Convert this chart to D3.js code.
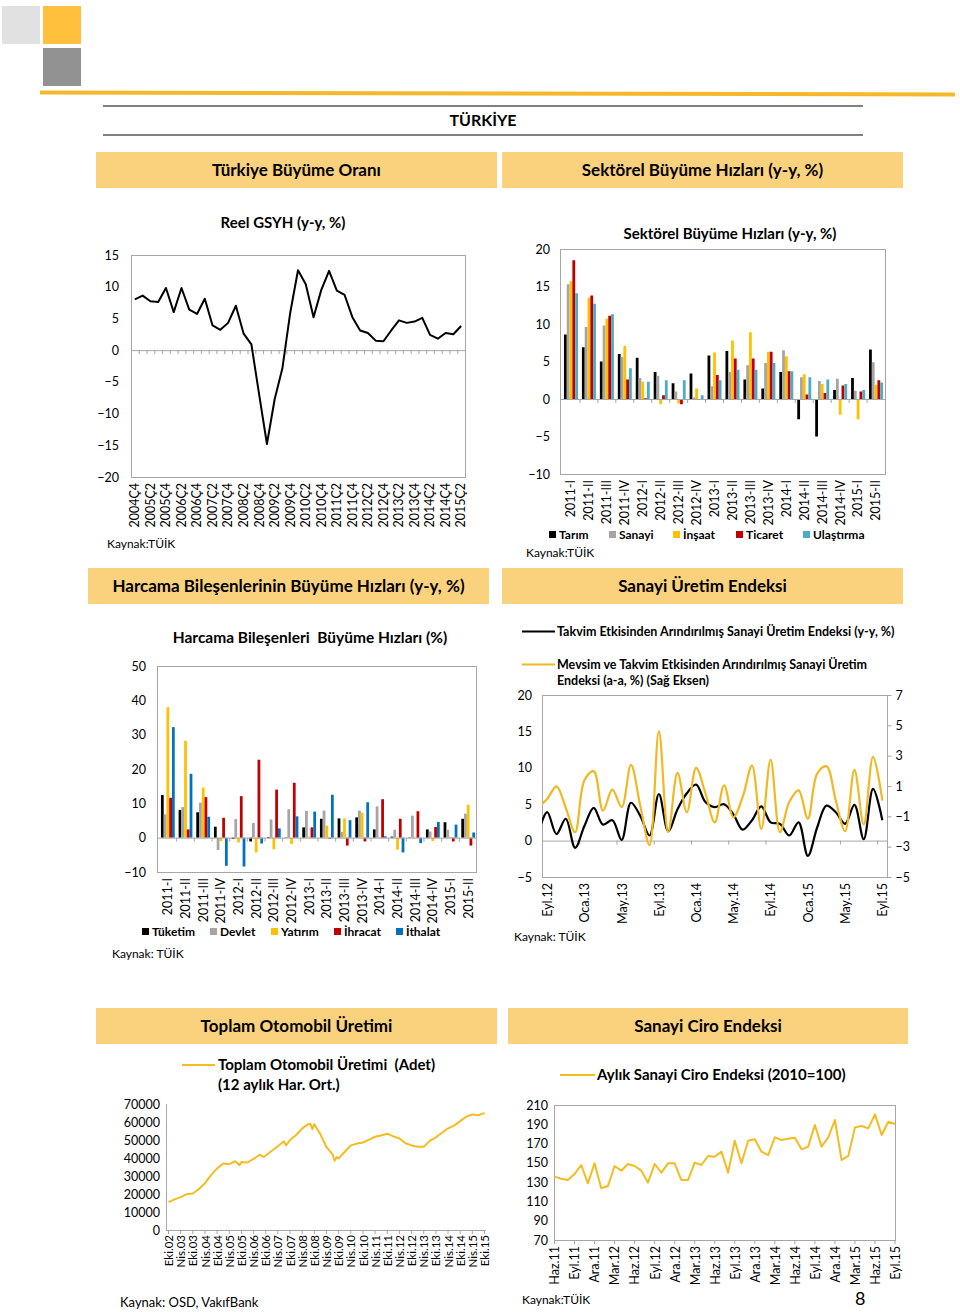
<!DOCTYPE html>
<html><head><meta charset="utf-8">
<script src="https://cdn.jsdelivr.net/npm/d3@7"></script>
<style>
body{margin:0;background:#fff}
svg{display:block}
text{white-space:pre}
</style>
</head><body>
<svg id="chart"></svg>
<script>
// ---------------- DATA ----------------
const gdpQuarters = ["2004Ç4","2005Ç1","2005Ç2","2005Ç3","2005Ç4","2006Ç1","2006Ç2","2006Ç3","2006Ç4","2007Ç1","2007Ç2","2007Ç3","2007Ç4","2008Ç1","2008Ç2","2008Ç3","2008Ç4","2009Ç1","2009Ç2","2009Ç3","2009Ç4","2010Ç1","2010Ç2","2010Ç3","2010Ç4","2011Ç1","2011Ç2","2011Ç3","2011Ç4","2012Ç1","2012Ç2","2012Ç3","2012Ç4","2013Ç1","2013Ç2","2013Ç3","2013Ç4","2014Ç1","2014Ç2","2014Ç3","2014Ç4","2015Ç1","2015Ç2"];
const gdpValues = [8.0,8.6,7.7,7.6,9.8,6.0,9.8,6.4,5.7,8.1,3.9,3.2,4.3,7.0,2.6,0.9,-7.0,-14.8,-7.7,-2.8,5.9,12.6,10.4,5.2,9.5,12.5,9.4,8.7,5.2,3.1,2.7,1.5,1.4,3.1,4.7,4.3,4.5,5.1,2.4,1.8,2.7,2.5,3.8];
const gdpYTicks = [-20,-15,-10,-5,0,5,10,15];

const quarters1115 = ["2011-I","2011-II","2011-III","2011-IV","2012-I","2012-II","2012-III","2012-IV","2013-I","2013-II","2013-III","2013-IV","2014-I","2014-II","2014-III","2014-IV","2015-I","2015-II"];
const sectorNames = ["Tarım","Sanayi","İnşaat","Ticaret","Ulaştırma"];
const sectorColors = ["#000000","#A5A5A5","#FFC000","#C00000","#4BACC6"];
const tarim     = [8.6,6.9,5.0,6.0,5.5,3.6,2.1,3.4,5.8,6.4,2.6,1.4,3.6,-2.7,-5.0,1.2,2.8,6.6];
const sanayi    = [15.3,9.6,9.8,5.6,2.8,3.1,1.0,0.2,1.7,3.6,4.5,4.8,6.5,2.9,2.4,2.7,1.1,4.9];
const insaat    = [15.7,13.5,10.7,7.1,2.3,-0.7,-0.6,1.4,6.2,7.8,8.9,6.3,5.7,3.3,2.0,-2.1,-2.7,1.9];
const ticaret   = [18.5,13.8,11.1,2.6,0.1,0.5,-0.7,-0.1,3.2,5.4,5.4,6.3,3.7,0.6,0.8,1.8,1.0,2.5];
const ulastirma = [14.1,12.7,11.3,4.1,2.3,2.5,2.5,0.5,2.5,3.9,3.9,4.8,3.7,2.9,2.6,2.0,1.2,2.2];
const sectorYTicks = [-10,-5,0,5,10,15,20];

const spendNames = ["Tüketim","Devlet","Yatırım","İhracat","İthalat"];
const spendColors = ["#000000","#A5A5A5","#FFC000","#C00000","#0070C0"];
const tuketim = [12.4,8.1,7.4,3.2,-0.4,-1.1,0.2,0.1,3.0,5.5,5.6,5.9,2.4,0.3,0.1,2.4,4.5,5.5];
const devlet  = [6.8,8.9,10.2,-3.6,5.4,4.3,5.3,8.3,7.8,7.9,1.7,7.9,9.1,2.3,6.4,1.8,2.3,7.0];
const yatirim = [38.0,28.2,14.6,-1.0,-1.4,-4.3,-3.4,-1.8,0.3,3.5,5.6,7.3,0.2,-3.5,-0.2,-1.0,0.2,9.6];
const ihracat = [11.6,2.4,11.8,5.8,12.1,22.7,14.0,16.0,3.0,-0.3,-2.3,-1.1,11.2,5.5,7.7,3.1,-1.1,-2.3];
const ithalat = [32.2,18.6,6.1,-8.2,-8.4,-1.7,2.7,6.2,7.6,12.5,5.1,10.3,0.4,-4.3,-1.6,4.6,3.8,1.5];
const spendYTicks = [-10,0,10,20,30,40,50];

const trMonths = ["Oca","Şub","Mar","Nis","May","Haz","Tem","Ağu","Eyl","Eki","Kas","Ara"];

// Sanayi üretim: Ağu.12 .. Eyl.15 (first month lies just left of the plot)
const ipMonths = ["Ağu.12","Eyl.12","Eki.12","Kas.12","Ara.12","Oca.13","Şub.13","Mar.13","Nis.13","May.13","Haz.13","Tem.13","Ağu.13","Eyl.13","Eki.13","Kas.13","Ara.13","Oca.14","Şub.14","Mar.14","Nis.14","May.14","Haz.14","Tem.14","Ağu.14","Eyl.14","Eki.14","Kas.14","Ara.14","Oca.15","Şub.15","Mar.15","Nis.15","May.15","Haz.15","Tem.15","Ağu.15","Eyl.15"];
const ipYoY = [0.8,3.9,0.9,3.0,-1.0,2.0,4.5,2.2,2.8,0.1,5.2,3.4,0.7,6.4,1.3,4.3,6.5,7.7,5.3,4.6,5.0,3.6,1.5,2.8,4.7,2.5,2.3,0.7,2.5,-2.1,1.8,4.8,3.9,2.3,4.9,0.2,7.1,2.8];
const ipMoM = [-0.4,0.15,0.98,-0.44,-2.05,1.38,1.98,-0.63,0.76,-0.39,2.39,-0.3,-2.89,4.6,-2.05,1.86,-0.73,2.2,0.52,-1.4,1.05,-1.06,0.28,2.34,-1.83,2.73,-2.05,-0.06,0.71,-1.16,1.82,2.3,0.04,-1.98,2.06,-1.54,2.92,0.04];
const ipTickLabels = ["Eyl.12","Oca.13","May.13","Eyl.13","Oca.14","May.14","Eyl.14","Oca.15","May.15","Eyl.15"];
const ipLeftTicks = [-5,0,5,10,15,20];
const ipRightTicks = [-5,-3,-1,1,3,5,7];

// Otomobil üretimi (12 aylık hareketli ortalama)
const autoDates = ["2002-10","2003-01","2003-04","2003-07","2003-10","2004-01","2004-04","2004-07","2004-10","2005-01","2005-04","2005-07","2005-09","2005-10","2006-01","2006-04","2006-07","2006-09","2006-10","2007-01","2007-04","2007-07","2007-08","2007-10","2008-01","2008-04","2008-07","2008-08","2008-09","2008-10","2009-01","2009-04","2009-07","2009-08","2009-09","2009-10","2010-01","2010-04","2010-07","2010-10","2011-01","2011-04","2011-07","2011-10","2012-01","2012-04","2012-07","2012-10","2013-01","2013-04","2013-07","2013-10","2014-01","2014-04","2014-07","2014-10","2015-01","2015-04","2015-07","2015-10"];
const autoValues = [15500,17000,18300,19900,20300,22800,26000,30500,34200,37000,36600,38200,36000,37800,37500,39500,41800,40600,41400,44000,46500,49300,47000,50000,52800,56500,58800,59000,56000,58800,53000,46000,42000,38500,40500,39800,43500,47000,48000,48600,50200,51800,52500,53500,52000,50800,48200,47000,46300,46300,49500,51500,54000,56500,58000,60500,63000,64200,63800,65000];
const autoTickLabels = ["Eki.02","Nis.03","Eki.03","Nis.04","Eki.04","Nis.05","Eki.05","Nis.06","Eki.06","Nis.07","Eki.07","Nis.08","Eki.08","Nis.09","Eki.09","Nis.10","Eki.10","Nis.11","Eki.11","Nis.12","Eki.12","Nis.13","Eki.13","Nis.14","Eki.14","Nis.15","Eki.15"];
const autoYTicks = [0,10000,20000,30000,40000,50000,60000,70000];

// Sanayi ciro endeksi: Haz.11 .. Eyl.15
const ciroValues = [135.7,133.6,132.2,138.4,147.8,128.8,149.5,123.6,126.0,146.7,141.9,148.8,146.7,141.9,129.5,148.8,139.8,149.5,149.5,132.2,132.2,150.2,147.8,157.1,156.4,161.6,139.8,173.0,149.5,173.0,174.4,161.6,158.1,176.5,173.7,175.1,176.1,164.0,166.8,189.3,166.8,176.5,194.4,153.0,157.1,186.8,188.2,185.8,200.3,178.9,192.7,190.3];
const ciroTickLabels = ["Haz.11","Eyl.11","Ara.11","Mar.12","Haz.12","Eyl.12","Ara.12","Mar.13","Haz.13","Eyl.13","Ara.13","Mar.14","Haz.14","Eyl.14","Ara.14","Mar.15","Haz.15","Eyl.15"];
const ciroYTicks = [70,90,110,130,150,170,190,210];

// ---------------- DRAWING ----------------
const FONT = "Lato, 'Open Sans', sans-serif";
const AXIS = "#A6A6A6";
const YEL = "#F5BC22";
const svg = d3.select("#chart").attr("width",960).attr("height",1312).style("font-family",FONT);
svg.append("rect").attr("width",960).attr("height",1312).attr("fill","#fff");

function txt(g,x,y,s,o={}){
  return g.append("text").attr("x",x).attr("y",y)
    .attr("font-size",o.size||12).attr("font-weight",o.bold?"bold":"normal")
    .attr("text-anchor",o.anchor||"start").attr("fill",o.fill||"#000").text(s);
}
function frame(g,L,T,R,B){
  g.append("rect").attr("x",L+0.5).attr("y",T+0.5).attr("width",R-L).attr("height",B-T)
    .attr("fill","none").attr("stroke",AXIS);
}
function yLeft(g,y,L,vals,pad,size,fmt){
  const ax=d3.axisLeft(y).tickValues(vals).tickSize(0).tickPadding(pad);
  if(fmt) ax.tickFormat(fmt);
  const a=g.append("g").attr("transform",`translate(${L},0)`).call(ax);
  a.select(".domain").remove();
  a.attr("font-family",FONT).attr("font-size",size);
  a.selectAll("text").attr("fill","#000");
  return a;
}
function xRot(g,x,vals,fmt,yTop,pad,size){
  const ax=d3.axisBottom(x).tickValues(vals).tickSize(0);
  if(fmt) ax.tickFormat(fmt);
  const a=g.append("g").attr("transform",`translate(0,${yTop})`).call(ax);
  a.select(".domain").remove();
  a.attr("font-family",FONT).attr("font-size",size);
  a.selectAll("text").attr("fill","#000").attr("transform","rotate(-90)")
    .attr("text-anchor","end").attr("x",-pad).attr("y",0).attr("dy","0.35em");
  return a;
}
function sectionBox(x,y,w,h,label){
  svg.append("rect").attr("x",x).attr("y",y).attr("width",w).attr("height",h).attr("fill","#FAD27D");
  txt(svg,x+w/2,y+h/2+6,label,{size:17,bold:true,anchor:"middle"});
}

// Header
svg.append("rect").attr("x",2).attr("y",6).attr("width",38).attr("height",38).attr("fill","#E1E1E1");
svg.append("rect").attr("x",43).attr("y",6).attr("width",38).attr("height",38).attr("fill","#FFC13D");
svg.append("rect").attr("x",43).attr("y",48).attr("width",38).attr("height",38).attr("fill","#929292");
svg.append("line").attr("x1",40).attr("x2",955).attr("y1",92.5).attr("y2",94.5).attr("stroke","#F5B82A").attr("stroke-width",4);
svg.append("line").attr("x1",103).attr("x2",863).attr("y1",106).attr("y2",106).attr("stroke","#808080").attr("stroke-width",2);
svg.append("line").attr("x1",103).attr("x2",863).attr("y1",135).attr("y2",135).attr("stroke","#808080").attr("stroke-width",2);
txt(svg,483,126,"TÜRKİYE",{size:16,bold:true,anchor:"middle"});

sectionBox(96,152,401,36,"Türkiye Büyüme Oranı");
sectionBox(502,152,401,36,"Sektörel Büyüme Hızları (y-y, %)");
sectionBox(88,568,401,36,"Harcama Bileşenlerinin Büyüme Hızları (y-y, %)");
sectionBox(502,568,401,36,"Sanayi Üretim Endeksi");
sectionBox(96,1008,401,36,"Toplam Otomobil Üretimi");
sectionBox(508,1008,400,36,"Sanayi Ciro Endeksi");

// ---- Chart 1: Reel GSYH ----
(function(){
  const L=131,R=465,T=255,B=477;
  const g=svg.append("g");
  const x=d3.scaleBand().domain(gdpQuarters).range([L,R]);
  const y=d3.scaleLinear().domain([-20,15]).range([B,T]);
  frame(g,L,T,R,B);
  g.append("line").attr("x1",L).attr("x2",R).attr("y1",y(0)+0.5).attr("y2",y(0)+0.5).attr("stroke",AXIS);
  g.selectAll(null).data(gdpQuarters.slice(1)).join("line")
    .attr("x1",d=>x(d)+0.5).attr("x2",d=>x(d)+0.5).attr("y1",y(0)).attr("y2",y(0)+4).attr("stroke",AXIS);
  yLeft(g,y,L,gdpYTicks,12,12.5);
  xRot(g,x,gdpQuarters.filter((d,i)=>i%2===0),null,B,6,12.5);
  g.append("path").datum(gdpValues)
    .attr("d",d3.line().x((d,i)=>x(gdpQuarters[i])+x.bandwidth()/2).y(d=>y(d)))
    .attr("fill","none").attr("stroke","#000").attr("stroke-width",2).attr("stroke-linejoin","round");
  txt(g,283,228,"Reel GSYH (y-y, %)",{size:15,bold:true,anchor:"middle"});
  txt(g,107,548,"Kaynak:TÜİK",{size:12});
})();

// ---- grouped bars helper ----
function groupedBars(o){
  const g=svg.append("g");
  const {L,R,T,B}=o;
  const x0=d3.scaleBand().domain(o.cats).range(o.catRange).paddingInner(0.22).paddingOuter(0.11);
  const x1=d3.scaleBand().domain(o.names).range([0,x0.bandwidth()]);
  const y=d3.scaleLinear().domain(o.domain).range([B,T]);
  frame(g,L,T,R,B);
  o.series.forEach((vals,si)=>{
    g.selectAll(null).data(vals).join("rect")
      .attr("x",(d,i)=>x0(o.cats[i])+x1(o.names[si]))
      .attr("width",x1.bandwidth())
      .attr("y",d=>Math.min(y(d),y(0)))
      .attr("height",d=>Math.abs(y(d)-y(0)))
      .attr("fill",o.colors[si]);
  });
  g.append("line").attr("x1",L).attr("x2",R).attr("y1",y(0)+0.5).attr("y2",y(0)+0.5).attr("stroke",AXIS);
  const gap=(x0.step()-x0.bandwidth())/2;
  g.selectAll(null).data(o.cats.slice(1)).join("line")
    .attr("x1",d=>x0(d)-gap).attr("x2",d=>x0(d)-gap).attr("y1",y(0)).attr("y2",y(0)+4).attr("stroke",AXIS);
  yLeft(g,y,L,o.ticks,o.ypad,12.5);
  xRot(g,x0,o.cats,null,B,6,12.5);
  // legend
  o.names.forEach((n,i)=>{
    g.append("rect").attr("x",o.legendX[i]).attr("y",o.legendY-8).attr("width",7).attr("height",7).attr("fill",o.colors[i]);
    txt(g,o.legendX[i]+10,o.legendY,n,{size:12,bold:true});
  });
  return g;
}

// ---- Chart 2: Sektörel ----
(function(){
  const g=groupedBars({L:560,R:885,T:249,B:474,catRange:[562,885],cats:quarters1115,names:sectorNames,
    series:[tarim,sanayi,insaat,ticaret,ulastirma],colors:sectorColors,domain:[-10,20],ticks:sectorYTicks,ypad:10,
    legendX:[549,609,673,736,803],legendY:539});
  txt(g,730,239,"Sektörel Büyüme Hızları (y-y, %)",{size:15,bold:true,anchor:"middle"});
  txt(g,526,557,"Kaynak:TÜİK",{size:12});
})();

// ---- Chart 3: Harcama ----
(function(){
  const g=groupedBars({L:157,R:476,T:666,B:872,catRange:[159,477],cats:quarters1115,names:spendNames,
    series:[tuketim,devlet,yatirim,ihracat,ithalat],colors:spendColors,domain:[-10,50],ticks:spendYTicks,ypad:11,
    legendX:[142,210,271,334,396],legendY:936});
  txt(g,310,643,"Harcama Bileşenleri  Büyüme Hızları (%)",{size:15.5,bold:true,anchor:"middle"});
  txt(g,112,958,"Kaynak: TÜİK",{size:12});
})();

// ---- Chart 4: Sanayi üretim ----
(function(){
  const L=542,R=887,T=695,B=877;
  const g=svg.append("g");
  const x=d3.scaleLinear().domain([-0.5,36.5]).range([L+0.5,R]);
  const yL=d3.scaleLinear().domain([-5,20]).range([B,T]);
  const yR=d3.scaleLinear().domain([-5,7]).range([B,T]);
  frame(g,L,T,R,B);
  g.append("line").attr("x1",L).attr("x2",R).attr("y1",yL(0)+0.5).attr("y2",yL(0)+0.5).attr("stroke",AXIS);
  const tickIdx=d3.range(-0.5,36,4);
  g.selectAll(null).data(tickIdx).join("line")
    .attr("x1",d=>x(d)).attr("x2",d=>x(d)).attr("y1",yL(0)).attr("y2",yL(0)+4).attr("stroke",AXIS);
  yLeft(g,yL,L,ipLeftTicks,10,12.5);
  const ra=g.append("g").attr("transform",`translate(${R+0.5},0)`)
    .call(d3.axisRight(yR).tickValues(ipRightTicks).tickSize(4).tickPadding(4));
  ra.select(".domain").remove();
  ra.attr("font-family",FONT).attr("font-size",12.5);
  ra.selectAll("line").attr("stroke",AXIS);
  ra.selectAll("text").attr("fill","#000");
  const labelIdx=ipTickLabels.map(l=>ipMonths.indexOf(l)-1);
  xRot(g,x,labelIdx,i=>ipMonths[i+1],B,6,12.5);
  svg.append("clipPath").attr("id","ipclip").append("rect").attr("x",L).attr("y",T).attr("width",R-L).attr("height",B-T);
  const pl=g.append("g").attr("clip-path","url(#ipclip)");
  pl.append("path").datum(ipYoY)
    .attr("d",d3.line().curve(d3.curveCatmullRom.alpha(0.5)).x((d,i)=>x(i-1)).y(d=>yL(d)))
    .attr("fill","none").attr("stroke","#000").attr("stroke-width",2.2);
  pl.append("path").datum(ipMoM)
    .attr("d",d3.line().curve(d3.curveCatmullRom.alpha(0.5)).x((d,i)=>x(i-1)).y(d=>yR(d)))
    .attr("fill","none").attr("stroke","#F1B823").attr("stroke-width",2.2);
  // legend
  g.append("line").attr("x1",522).attr("x2",555).attr("y1",631.5).attr("y2",631.5).attr("stroke","#000").attr("stroke-width",2);
  txt(g,557,635.5,"Takvim Etkisinden Arındırılmış Sanayi Üretim Endeksi (y-y, %)",{size:12.5,bold:true});
  g.append("line").attr("x1",522).attr("x2",555).attr("y1",664.5).attr("y2",664.5).attr("stroke","#F1B823").attr("stroke-width",2);
  txt(g,557,668.5,"Mevsim ve Takvim Etkisinden Arındırılmış Sanayi Üretim",{size:12.5,bold:true});
  txt(g,557,684.5,"Endeksi (a-a, %) (Sağ Eksen)",{size:12.5,bold:true});
  txt(g,514,941,"Kaynak: TÜİK",{size:12});
})();

// ---- Chart 5: Otomobil ----
(function(){
  const L=166,R=486,T=1104,B=1230;
  const g=svg.append("g");
  const parse=d3.timeParse("%Y-%m");
  const parseLabel=l=>new Date(2000+ +l.slice(4), trMonths.indexOf(l.slice(0,3)), 1);
  const x=d3.scaleTime().domain([parse("2002-10"),parse("2015-10")]).range([168.5,484.5]);
  const y=d3.scaleLinear().domain([0,70000]).range([B,T]);
  g.append("line").attr("x1",L+0.5).attr("x2",L+0.5).attr("y1",T).attr("y2",B).attr("stroke",AXIS);
  g.append("line").attr("x1",L).attr("x2",R).attr("y1",B+0.5).attr("y2",B+0.5).attr("stroke",AXIS);
  const tickDates=autoTickLabels.map(parseLabel);
  g.selectAll(null).data(tickDates).join("line")
    .attr("x1",d=>x(d)).attr("x2",d=>x(d)).attr("y1",B).attr("y2",B+4).attr("stroke",AXIS);
  yLeft(g,y,L,autoYTicks,6,12.5,d3.format("d"));
  xRot(g,x,tickDates,(d,i)=>autoTickLabels[i],B,5,11.5);
  g.append("path").datum(autoValues)
    .attr("d",d3.line().x((d,i)=>x(parse(autoDates[i]))).y(d=>y(d)))
    .attr("fill","none").attr("stroke",YEL).attr("stroke-width",2).attr("stroke-linejoin","round");
  g.append("line").attr("x1",182).attr("x2",215).attr("y1",1065).attr("y2",1065).attr("stroke",YEL).attr("stroke-width",2);
  txt(g,218,1070,"Toplam Otomobil Üretimi  (Adet)",{size:15,bold:true});
  txt(g,218,1090,"(12 aylık Har. Ort.)",{size:15,bold:true});
  txt(g,120,1307,"Kaynak: OSD, VakıfBank",{size:13});
})();

// ---- Chart 6: Ciro ----
(function(){
  const L=554,R=895,T=1105,B=1240;
  const g=svg.append("g");
  const months=[];
  for(let k=0;k<ciroValues.length;k++){const m=(5+k)%12, yy=11+Math.floor((5+k)/12); months.push(trMonths[m]+"."+yy);}
  const x=d3.scalePoint().domain(months).range([L+0.5,R]);
  const y=d3.scaleLinear().domain([70,210]).range([B,T]);
  frame(g,L,T,R,B);
  g.selectAll(null).data(ciroTickLabels).join("line")
    .attr("x1",d=>x(d)).attr("x2",d=>x(d)).attr("y1",B).attr("y2",B+4).attr("stroke",AXIS);
  yLeft(g,y,L,ciroYTicks,6,12.5);
  xRot(g,x,ciroTickLabels,null,B,6,12.5);
  g.append("path").datum(ciroValues)
    .attr("d",d3.line().x((d,i)=>x(months[i])).y(d=>y(d)))
    .attr("fill","none").attr("stroke",YEL).attr("stroke-width",2).attr("stroke-linejoin","round");
  g.append("line").attr("x1",560).attr("x2",595).attr("y1",1075).attr("y2",1075).attr("stroke",YEL).attr("stroke-width",2);
  txt(g,597,1080,"Aylık Sanayi Ciro Endeksi (2010=100)",{size:15,bold:true});
  txt(g,522,1304,"Kaynak:TÜİK",{size:12});
  txt(g,855,1305,"8",{size:18});
})();
</script>
</body></html>
